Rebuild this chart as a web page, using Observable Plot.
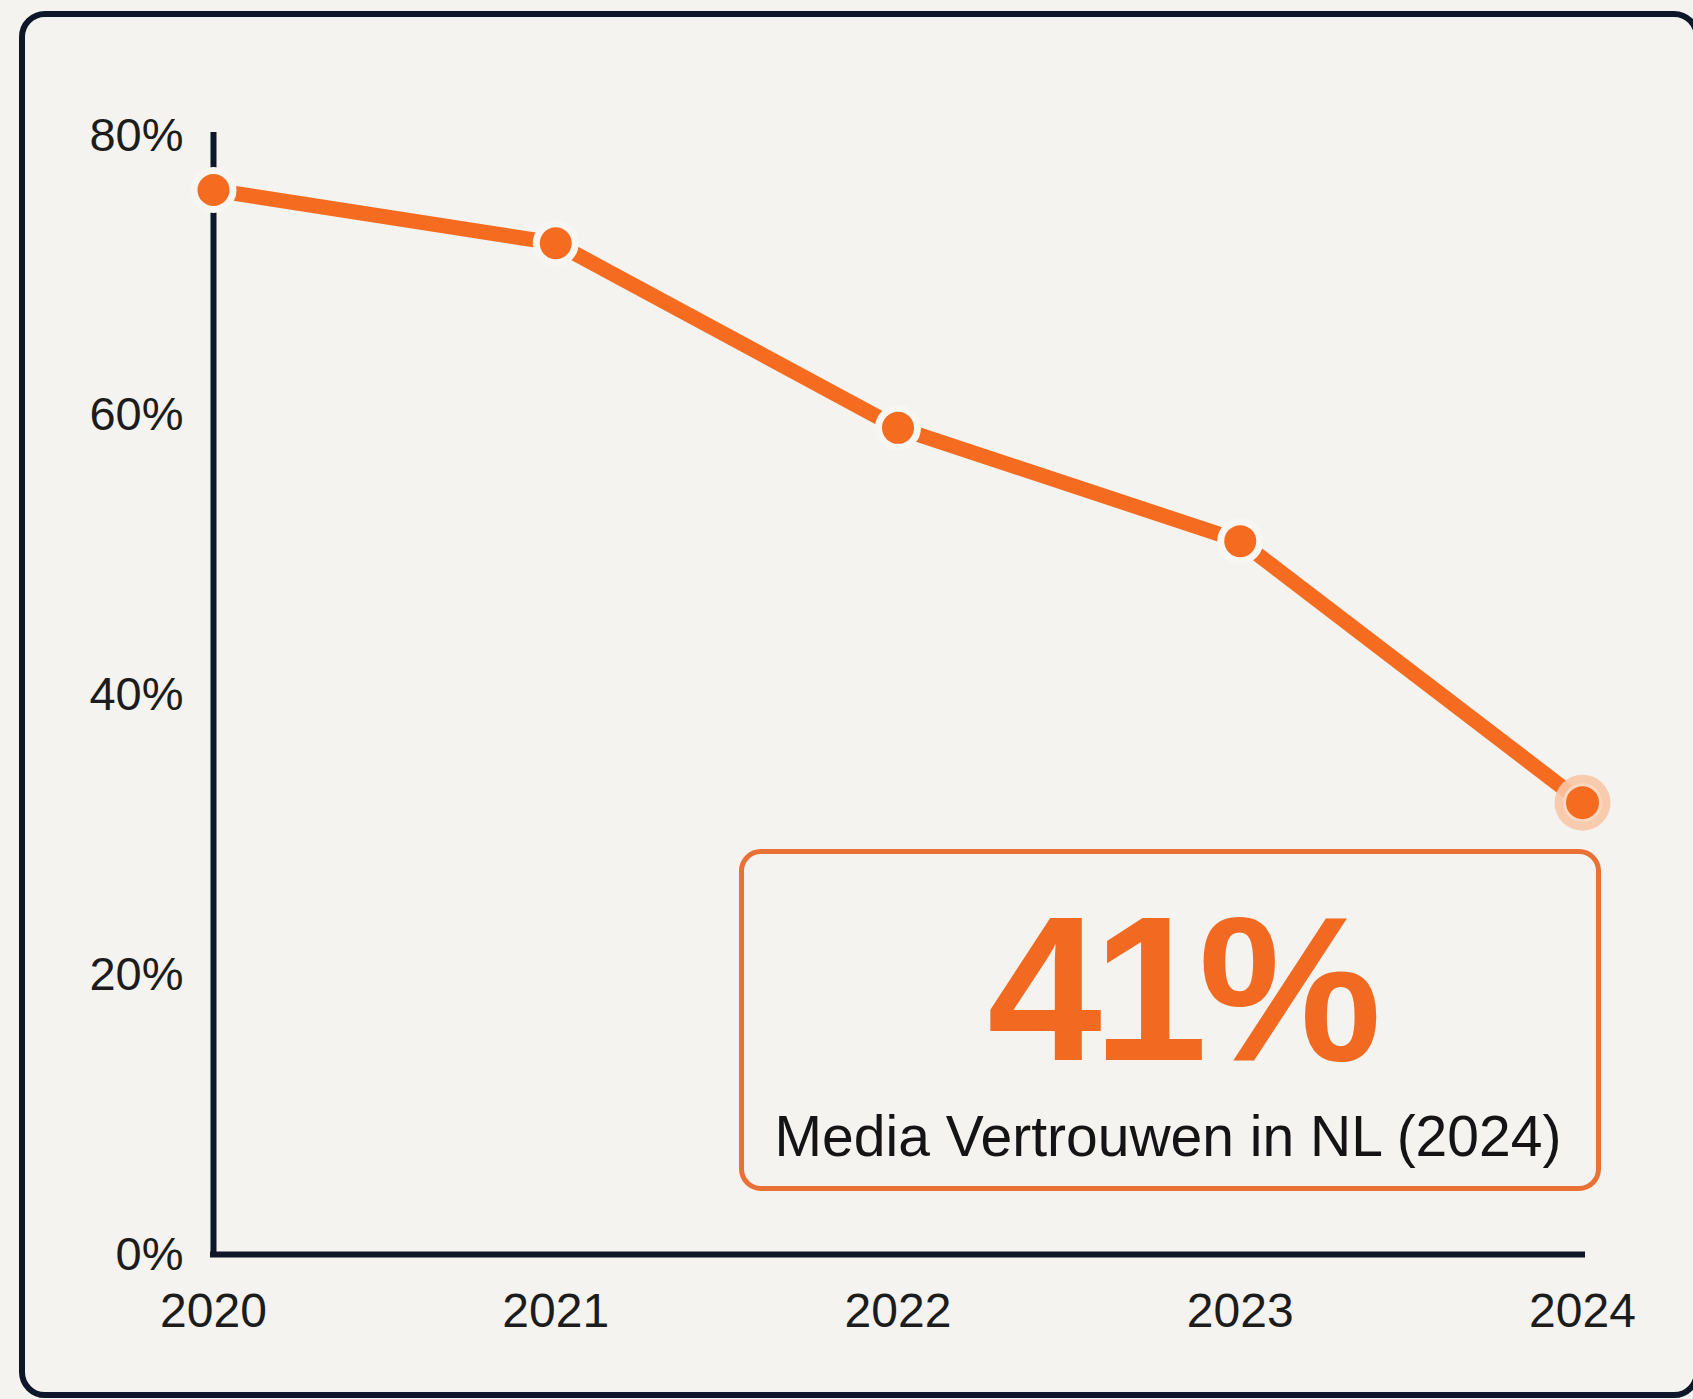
<!DOCTYPE html>
<html>
<head>
<meta charset="utf-8">
<script src="https://cdn.jsdelivr.net/npm/d3@7"></script>
<script src="https://cdn.jsdelivr.net/npm/@observablehq/plot@0.6"></script>
<style>
  html, body { margin: 0; padding: 0; background: #f4f3ef; }
  #wrap { position: relative; width: 1693px; height: 1399px; overflow: hidden;
          font-family: "Liberation Sans", Arial, Helvetica, sans-serif; }
  #chart { position: absolute; left: 0; top: 0; }
  #frame { position: absolute; left: 19px; top: 11px; width: 1681px; height: 1387px;
           border: 6px solid #0e1729; border-radius: 26px; box-sizing: border-box; pointer-events: none; }
  #callout { position: absolute; left: 739px; top: 849px; width: 862px; height: 342px;
             border: 5px solid #ea7135; border-radius: 22px; box-sizing: border-box; }
  #ann { position: absolute; left: 0; top: 0; pointer-events: none; }
</style>
</head>
<body>
<div id="wrap">
  <div id="chart"></div>
  <div id="frame"></div>
  <div id="callout"></div>
  <svg id="ann" width="1693" height="1399"></svg>
</div>
<script>
// ---- data ----
const years = [2020, 2021, 2022, 2023, 2024];
const trust = [76.1, 72.3, 59.1, 51.0, 32.3];
const yTicks = [0, 20, 40, 60, 80];
const calloutValue = "41%";
const calloutLabel = "Media Vertrouwen in NL (2024)";

const orange = "#f56c20";
const navy = "#0e1729";
const ink = "#1c1c1c";

const data = years.map((year, i) => ({year, value: trust[i]}));
const last = data[data.length - 1];

const chart = Plot.plot({
  width: 1693,
  height: 1399,
  marginLeft: 213,
  marginRight: 111,
  marginTop: 135,
  marginBottom: 145,
  style: {background: "transparent", fontFamily: "'Liberation Sans', Arial, Helvetica, sans-serif", color: ink, fontSize: "48px"},
  x: {domain: [years[0], years[years.length - 1]]},
  y: {domain: [yTicks[0], yTicks[yTicks.length - 1]]},
  marks: [
    Plot.axisX({ticks: years, tickFormat: d => String(d), tickSize: 0, tickPadding: 38, fontSize: 48, label: null}),
    Plot.axisY({ticks: yTicks, tickFormat: d => d + "%", tickSize: 0, tickPadding: 30, fontSize: 47, label: null}),
    Plot.ruleX([years[0]], {y1: yTicks[0], y2: yTicks[yTicks.length - 1], stroke: navy, strokeWidth: 6, strokeLinecap: "square"}),
    Plot.ruleY([yTicks[0]], {x1: years[0], x2: years[years.length - 1], stroke: navy, strokeWidth: 6, strokeLinecap: "square"}),
    Plot.line(data, {x: "year", y: "value", stroke: orange, strokeWidth: 15, strokeLinejoin: "round"}),
    Plot.dot(data.slice(0, -1), {x: "year", y: "value", r: 19.5, fill: orange, stroke: "#f7f6f3", strokeWidth: 7}),
    Plot.dot([last], {x: "year", y: "value", r: 28, fill: "#f9c6a6", fillOpacity: 0.9}),
    Plot.dot([last], {x: "year", y: "value", r: 18, fill: orange, stroke: "#fbd8c2", strokeWidth: 3})
  ]
});
document.getElementById("chart").appendChild(chart);

// ---- callout text (annotation, not a data mark) ----
const ann = d3.select("#ann");
ann.append("text")
  .attr("x", 1180).attr("y", 1060)
  .attr("text-anchor", "middle")
  .attr("font-family", "'Liberation Sans', Arial, Helvetica, sans-serif")
  .attr("font-size", 206).attr("font-weight", 700)
  .attr("letter-spacing", -9)
  .attr("fill", "#f26a21")
  .text(calloutValue);
ann.append("text")
  .attr("x", 1168).attr("y", 1156)
  .attr("text-anchor", "middle")
  .attr("font-family", "'Liberation Sans', Arial, Helvetica, sans-serif")
  .attr("font-size", 57)
  .attr("fill", "#141414")
  .text(calloutLabel);
</script>
</body>
</html>
